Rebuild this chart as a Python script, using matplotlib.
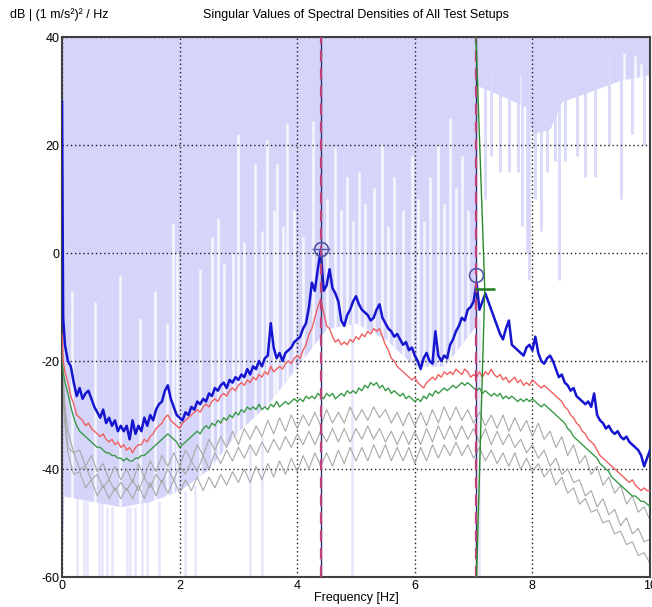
import numpy as np
import matplotlib
matplotlib.use('Agg')
import matplotlib.pyplot as plt

plt.rcParams['font.family'] = ['Liberation Sans', 'DejaVu Sans']
plt.rcParams['axes.unicode_minus'] = False

# Frequency grids [Hz]
f_sv = np.concatenate([[0.0, 0.02], np.arange(1, 201) * 0.05])
f_grey = np.concatenate([[0.0, 0.05], np.arange(1, 101) * 0.1])

# Singular values [dB]
sv1 = [28, -12,
       -17, -20, -21, -24, -26.5, -25, -27, -26, -25.5, -27, -28.5, -29.5, -30.5, -29, -31.5, -30.5, -32, -31, -33, -32,
       -33, -32, -34.5, -31, -33.5, -32, -33, -30.5, -32, -30, -31, -29, -28, -27.5, -25.5, -24.5, -27, -28.5, -30, -30.5,
       -31, -29.5, -30, -28.5, -29, -27.5, -28, -27, -27.5, -26, -26.5, -25, -25.5, -24.5, -24, -25, -23.5, -24, -23, -23.5,
       -22.5, -23, -21.5, -22.5, -21, -21.5, -20, -21, -19.5, -19, -13, -17.5, -19.5, -18.5, -20, -18.5, -18, -17.5, -16.5, -16,
       -15.5, -14, -13, -10, -5.5, -7, -3, 0.5, -7, -6, -3, -6.5, -7.5, -9, -12.5, -13.5, -11.5, -10.5, -9, -8,
       -9.5, -10.5, -11, -11.5, -12.5, -12, -10.5, -9.5, -12, -13, -14, -14.5, -15.5, -15, -16, -17, -16.5, -18, -17.5, -19,
       -20, -21.5, -19.5, -18.5, -20, -20.5, -14.5, -19, -20, -19, -19.5, -17, -16, -14.5, -13.5, -12, -12.5, -10.5, -10, -9,
       -5.5, -10.5, -9, -7.5, -9, -10.5, -12, -13.5, -15, -16, -14, -12.5, -17, -17.5, -18, -18.5, -19, -17.5, -17, -18,
       -15.5, -18.5, -20, -20.5, -19.5, -19, -20, -21.5, -23, -22.5, -24, -24.5, -25.5, -25, -26.5, -27, -27.5, -28, -27.5, -28.5,
       -26, -30, -31, -31.5, -32.5, -32, -33, -33.5, -33, -34, -34.5, -34, -35, -35.5, -36, -36.5, -37.5, -39.5, -38, -36.5]

sv2 = [-15, -20,
       -22, -24, -26.5, -28, -30, -30.5, -31, -32, -31.5, -32.5, -33, -33.5, -34, -33.5, -34.5, -35, -34.5, -35.5, -35, -36,
       -35.5, -36.5, -36, -37, -36, -35.5, -35.5, -34.5, -35, -34, -33.5, -32.5, -32, -31.5, -30.5, -30, -31, -31.5, -32, -32.5,
       -31.5, -31, -30.5, -30, -29.5, -29, -29.5, -28.5, -28, -28.5, -27.5, -27, -27.5, -26.5, -26, -26.5, -25.5, -25, -25.5, -24.5,
       -24, -24.5, -23.5, -24, -23, -23.5, -22.5, -23, -22, -22.5, -21, -22, -21.5, -21, -21.5, -20.5, -20, -20.5, -19.5, -19,
       -19.5, -18, -17, -15, -14, -12, -10, -8.5, -11, -13.5, -14, -15.5, -16.5, -16, -17, -16.5, -17, -16, -16.5, -15.5,
       -16, -15, -15.5, -14.5, -15, -14, -14.5, -14, -15.5, -17, -18, -19.5, -20, -21, -21.5, -22, -22.5, -23, -23.5, -23,
       -24, -24.5, -25, -24, -23.5, -23, -23.5, -22.5, -23, -22, -22.5, -22, -22.5, -21.5, -22, -22.5, -21.5, -22, -23, -22.5,
       -23, -22, -23, -22, -22.5, -21.5, -22.5, -23, -22.5, -23.5, -23, -24, -23.5, -23, -24, -23.5, -24.5, -24, -24.5, -23.5,
       -24, -24.5, -25, -24.5, -25, -25.5, -26, -26.5, -27, -27.5, -28.5, -29, -30, -30.5, -31.5, -32, -33, -33.5, -34.5, -35,
       -35.5, -36.5, -37.5, -38, -38.5, -39, -39.5, -40, -40.5, -41, -41.5, -42, -42.5, -42, -43, -43.5, -44, -43.5, -44, -44]

sv3 = [-18, -22,
       -24, -26, -28.5, -30.5, -32, -33, -33.5, -34, -34.5, -35, -35.5, -36, -36, -36.5, -37, -37, -37.5, -37.5, -38, -38,
       -38.5, -38, -38.5, -38.5, -38, -38, -37.5, -37.5, -37, -36.5, -36, -35.5, -35, -34.5, -34, -33.5, -34, -34.5, -35, -36,
       -35.5, -35, -34.5, -34, -33.5, -33, -33.5, -32.5, -32, -32.5, -31.5, -32, -31, -31.5, -30.5, -31, -30, -30.5, -29.5, -30,
       -29, -29.5, -28.5, -29, -28.5, -29, -28, -29, -28.5, -29, -28, -28.5, -27.5, -28.5, -28, -27.5, -28, -27.5, -27, -27.5,
       -27, -27.5, -26.5, -27, -26.5, -27, -26, -26.5, -27, -26, -26.5, -26, -27, -26.5, -26, -26.5, -25.5, -26, -25.5, -26,
       -25, -25.5, -24.5, -25, -24, -24.5, -24, -25, -24.5, -25.5, -25, -26, -25.5, -26, -26.5, -26, -27, -26.5, -27, -27.5,
       -27, -27.5, -26.5, -27, -26, -26.5, -25.5, -26, -25.5, -25, -25.5, -25, -24.5, -25, -24.5, -24, -24.5, -24, -24.5, -25,
       -25.5, -25, -26, -25.5, -26, -26.5, -26, -26.5, -26, -27, -26.5, -27, -26.5, -27, -27.5, -27, -27.5, -27, -27.5, -27,
       -27.5, -28, -28.5, -28, -28.5, -29, -29.5, -30, -30.5, -31, -31.5, -32.5, -33, -34, -34.5, -35, -35.5, -36, -36.5, -37,
       -37.5, -38, -39, -39.5, -40, -40.5, -41.5, -42, -42.5, -43, -43.5, -44, -44.5, -45, -45, -45.5, -46, -46, -46.5, -47]

grey1 = [-20, -28,
         -33, -37, -36.5, -39.5, -37.5, -40.5, -39, -42, -39.5, -42,
         -40, -42.5, -39, -41.5, -38.5, -40.5, -37.5, -39.5, -37, -39.5,
         -36.5, -38.5, -35.5, -37.5, -34.5, -36.5, -34, -36, -33, -35.5,
         -32.5, -34.5, -32, -34, -31, -33.5, -30.5, -33, -30, -32.5,
         -30, -32, -29.5, -32, -29, -31.5, -29.5, -31.5, -28.5, -31,
         -29, -31, -28.5, -30.5, -29, -31.5, -29.5, -32, -29.5, -32,
         -29.5, -32, -29, -31.5, -28.5, -31, -28.5, -31, -29, -31.5,
         -29.5, -32, -30, -32.5, -30, -33, -30.5, -33, -31, -34,
         -31.5, -34.5, -33, -36, -34, -37.5, -35.5, -39, -37.5, -41,
         -39.5, -43, -41.5, -44.5, -43, -46.5, -45, -48, -47, -49.5]

grey2 = [-22, -30,
         -36, -37, -40, -39.5, -42, -41, -43.5, -42, -44, -42.5,
         -44, -42, -44, -41.5, -43.5, -41, -42.5, -40, -42, -39.5,
         -41, -38.5, -40.5, -37.5, -40, -37, -39, -36.5, -38.5, -36,
         -38, -35.5, -37.5, -35, -37, -34.5, -36.5, -34, -36, -33.5,
         -35.5, -33, -35.5, -33, -35, -32.5, -35, -32.5, -35, -32.5,
         -34.5, -32, -34.5, -32.5, -35, -33, -35.5, -33, -35.5, -33,
         -35.5, -32.5, -35, -32, -34.5, -32, -34.5, -32, -34.5, -32.5,
         -35, -32.5, -35.5, -33, -35.5, -33.5, -36, -34.5, -37, -35.5,
         -38, -36.5, -39.5, -38, -41, -40, -42.5, -42, -45, -44,
         -47, -45.5, -48.5, -47.5, -50.5, -49, -52, -51, -53.5, -53]

grey3 = [-24, -32,
         -37, -41, -40.5, -43.5, -42, -45, -43, -45.5, -43.5, -45.5,
         -43.5, -45.5, -43, -45.5, -42.5, -45, -42, -44.5, -42, -44.5,
         -42, -44, -41.5, -44, -41.5, -43.5, -41, -43, -40.5, -42.5,
         -40, -42.5, -39.5, -42, -39, -41.5, -38.5, -41, -38, -40.5,
         -37.5, -40, -37, -39.5, -37, -39.5, -36.5, -39, -36, -38.5,
         -36, -38.5, -35.5, -38, -35.5, -38.5, -36, -38.5, -36, -39,
         -36, -38.5, -35.5, -38, -35.5, -37.5, -35, -37.5, -35.5, -38,
         -36, -38.5, -36.5, -39, -37, -39.5, -37, -40, -38, -40.5,
         -39, -41.5, -40, -43, -41.5, -44.5, -43.5, -46.5, -45.5, -48,
         -47.5, -50, -49.5, -52, -51.5, -54, -53.5, -56, -55.5, -57.5]

# Shaded (lavender) region lower boundary
shade_f = [0, 0.03, 0.5, 1.0, 1.5, 2.0, 2.5, 3.0, 3.5, 4.0, 4.5, 5.0, 5.5, 6.0, 6.5, 7.0, 7.04,
           7.06, 7.5, 7.9, 8.0, 8.3, 8.5, 9.0, 9.5, 10.0]
shade_db = [-60, -45, -46, -47, -46, -44, -40, -33, -28, -21, -14, -13, -16, -21, -21, -14, -12,
            31, 29, 27, 22, 23, 28, 30, 32, 33]

# white gaps reaching up into the shading
gap_f = [0.17, 0.56, 0.99, 1.33, 1.58, 1.78, 1.89, 1.95, 2.35, 2.55, 2.65, 2.75, 2.9, 3.0, 3.1, 3.28,
         3.4, 3.49, 3.6, 3.66, 3.75, 3.83, 3.95, 4.1, 4.27, 4.5, 4.64, 4.75, 4.85, 4.95, 5.05, 5.15,
         5.3, 5.45, 5.55, 5.65, 5.8, 5.95, 6.05, 6.15, 6.25, 6.4, 6.5, 6.6, 6.7, 6.8, 6.9,
         7.3, 7.8, 9.3, 9.55, 9.75, 9.85]
gap_top = [-7, -9, -4, -12, -7, -13, 5.5, 0, -3, 3, 6.5, -2, 0, 22, 2, 16.5,
           4, 21, 8, 16.5, 5, 24, 8, 3, 24.5, 10, 19.5, 8, 14, 6, 15, 9,
           12, 20, 5, 14, 8, 18, 10, 6, 14, 20, 9, 25, 12, 18, 8,
           34, 33, 36, 37, 36.5, 35]

# lavender streaks hanging down from the shading (right part)
streak_f = [7.2, 7.3, 7.45, 7.6, 7.75, 7.82, 7.9, 7.95, 8.05, 8.15, 8.25, 8.38, 8.45, 8.55, 8.75,
            8.9, 9.06, 9.3, 9.5, 9.7, 9.9]
streak_bottom = [10, 18, 15, 15, 15, 5, 0, -5, 10, 4, 15, 17, -5, 17, 18,
                 14, 14, 20, 10, 22, 20]

# lavender streaks below the curves (left part)
low_f = [0.26, 0.37, 0.43, 0.63, 0.68, 0.77, 0.85, 1.1, 1.16, 1.24, 1.36, 1.45, 1.65, 2.09, 2.26,
         3.2, 3.4, 4.93, 7.1]
low_top = [-45, -45, -46, -46, -46, -47, -47, -47, -47, -47, -46, -46, -46, -44, -43,
           -36, -34, -13, -12]

# peak picking
peaks_f = [4.40, 7.04]
peaks_db = [0.7, -4.1]
mode_line_f = [7.04, 7.19, 7.05]
mode_line_db = [40, -6.7, -60]
mode_f = 7.19
mode_db = -6.7

fig = plt.figure(figsize=(6.52, 6.07), dpi=100)
ax = fig.add_axes([62 / 652, 30 / 607, 588 / 652, 540 / 607])

lav = '#d5d5fa'
ax.fill_between(shade_f, shade_db, 40, color=lav, lw=0, zorder=0.1)
ax.vlines(gap_f, -60, gap_top, color='white', lw=1.8, alpha=0.8, zorder=0.2)
ax.vlines(streak_f, streak_bottom, 40, color=lav, lw=2.2, alpha=0.85, zorder=0.3)
ax.vlines(low_f, -60, low_top, color=lav, lw=1.8, alpha=0.6, zorder=0.3)

for g in (grey3, grey2, grey1):
    ax.plot(f_grey, g, color='#a8a8a8', lw=0.8, zorder=2)
ax.plot(f_sv, sv3, color='#3a9a48', lw=1.0, zorder=3)
ax.plot(f_sv, sv2, color='#ee6060', lw=1.0, zorder=3)
ax.plot(f_sv, sv1, color='#1515d0', lw=1.8, zorder=4)

# selected modes
for pf in peaks_f:
    ax.axvline(pf, color='#303070', lw=1.0, zorder=5)
    ax.axvline(pf, color='#c0407a', lw=1.6, ls=(0, (5, 3)), zorder=5)
ax.plot(mode_line_f, mode_line_db, color='#2a8a2a', lw=1.0, zorder=5)
ax.errorbar(mode_f, mode_db, xerr=0.17, color='#1f7a1f', lw=1.8, capsize=0, zorder=6)
ax.plot(peaks_f, peaks_db, 'o', mfc='none', mec='#5555aa', ms=10, mew=1.2, zorder=6)
ax.errorbar(peaks_f[0], peaks_db[0], xerr=0.15, color='#5555aa', lw=1.0, capsize=0, zorder=6)

ax.set_xlim(0, 10)
ax.set_ylim(-60, 40)
ax.set_xticks([0, 2, 4, 6, 8, 10])
ax.set_yticks([-60, -40, -20, 0, 20, 40])
ax.grid(True, color='#202020', ls=(0, (1, 2)), lw=1.0)
ax.set_axisbelow('line')
ax.tick_params(length=0, labelsize=9, pad=2)
for s in ax.spines.values():
    s.set_color('#404040')
    s.set_linewidth(1.5)

ax.set_xlabel('Frequency [Hz]', fontsize=9, labelpad=0)
fig.text(10 / 652, 1 - 15 / 607, 'dB | (1 m/s²)² / Hz', fontsize=9, va='center', ha='left')
fig.text(356 / 652, 1 - 15 / 607, 'Singular Values of Spectral Densities of All Test Setups',
         fontsize=9, va='center', ha='center')

fig.savefig('out.png', dpi=100)
